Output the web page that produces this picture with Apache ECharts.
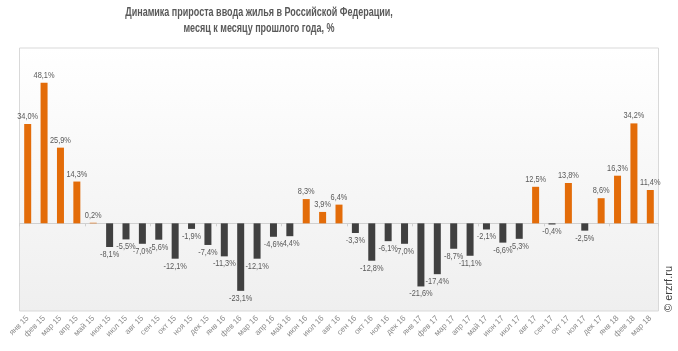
<!DOCTYPE html>
<html>
<head>
<meta charset="utf-8">
<script src="https://cdn.jsdelivr.net/npm/echarts@6/dist/echarts.min.js"></script>
<style>
  html, body { margin: 0; padding: 0; background: #fff; }
  #chart-div { width: 678px; height: 351px; }
</style>
</head>
<body>
<div id="chart-div"></div>
<script>
// месяцы и прирост, %
const months = [
    'янв 15', 'фев 15', 'мар 15', 'апр 15', 'май 15', 'июн 15', 'июл 15', 'авг 15', 'сен 15', 'окт 15', 'ноя 15', 'дек 15',
    'янв 16', 'фев 16', 'мар 16', 'апр 16', 'май 16', 'июн 16', 'июл 16', 'авг 16', 'сен 16', 'окт 16', 'ноя 16', 'дек 16',
    'янв 17', 'фев 17', 'мар 17', 'апр 17', 'май 17', 'июн 17', 'июл 17', 'авг 17', 'сен 17', 'окт 17', 'ноя 17', 'дек 17',
    'янв 18', 'фев 18', 'мар 18'
]
const growth = [
    34.0, 48.1, 25.9, 14.3, 0.2, -8.1, -5.5, -7.0, -5.6, -12.1, -1.9, -7.4,
    -11.3, -23.1, -12.1, -4.6, -4.4, 8.3, 3.9, 6.4, -3.3, -12.8, -6.1, -7.0,
    -21.6, -17.4, -8.7, -11.1, -2.1, -6.6, -5.3, 12.5, -0.4, 13.8, -2.5, 8.6,
    16.3, 34.2, 11.4
]
const titleLines = [
    'Динамика прироста ввода жилья в Российской Федерации,',
    'месяц к месяцу прошлого года, %'
]

const font = '"Liberation Sans", Arial, sans-serif'

let myChart = echarts.init(document.getElementById('chart-div'))

// заголовок сжат по ширине, как в узком шрифте оригинала
const titleGraphic = titleLines.map((t, i) => ({
    type: 'text',
    x: 259, y: 13 + i * 16,
    scaleX: 0.75,
    style: {
        text: t, fill: '#595959',
        font: 'bold 12px ' + font,
        textAlign: 'center', textVerticalAlign: 'middle'
    }
}))

// подписи значений: узкий текст над/под столбиком
function renderLabel(params, api) {
    const v = api.value(1)
    const p = api.coord([api.value(0), v])
    return {
        type: 'text',
        x: p[0], y: v >= 0 ? p[1] - 3 : p[1] + 3,
        scaleX: 0.82,
        style: {
            text: v.toFixed(1).replace('.', ',') + '%',
            font: '9px ' + font,
            fill: '#595959',
            textAlign: 'center',
            textVerticalAlign: v >= 0 ? 'bottom' : 'top'
        }
    }
}

const option = {
    animation: false,
    grid: {
        left: 19.5, right: 19.5, top: 48, bottom: 40,
        show: true,
        borderColor: '#d9d9d9',
        borderWidth: 1,
        backgroundColor: new echarts.graphic.LinearGradient(0, 0, 0, 1, [
            { offset: 0, color: '#ffffff' },
            { offset: 1, color: '#efefef' }
        ])
    },
    xAxis: [{
        // линия нуля с делениями
        type: 'category',
        data: months,
        axisLine: { onZero: true, lineStyle: { color: '#d0d0d0' } },
        axisTick: { show: true, length: 3, lineStyle: { color: '#d0d0d0' } },
        axisLabel: { show: false }
    }, {
        // подписи месяцев внизу
        type: 'category',
        data: months,
        position: 'bottom',
        axisLine: { show: false, onZero: false },
        axisTick: { show: false },
        axisLabel: {
            rotate: 45, interval: 0, margin: 6,
            fontFamily: font, fontSize: 8, color: '#8c8c8c'
        }
    }],
    yAxis: {
        type: 'value',
        min: -30, max: 60,
        show: false,
        splitLine: { show: false }
    },
    graphic: titleGraphic.concat([{
        type: 'text',
        x: 663, y: 312,
        rotation: Math.PI / 2,
        style: { text: '© erzrf.ru', font: '11px ' + font, fill: '#404040' }
    }]),
    series: [{
        type: 'bar',
        barWidth: 7,
        data: growth.map(v => ({
            value: v,
            itemStyle: { color: v >= 0 ? '#e36c09' : '#404040' }
        }))
    }, {
        type: 'custom',
        renderItem: renderLabel,
        data: growth.map((v, i) => [i, v]),
        z: 5
    }]
}

myChart.setOption(option)
</script>
</body>
</html>
